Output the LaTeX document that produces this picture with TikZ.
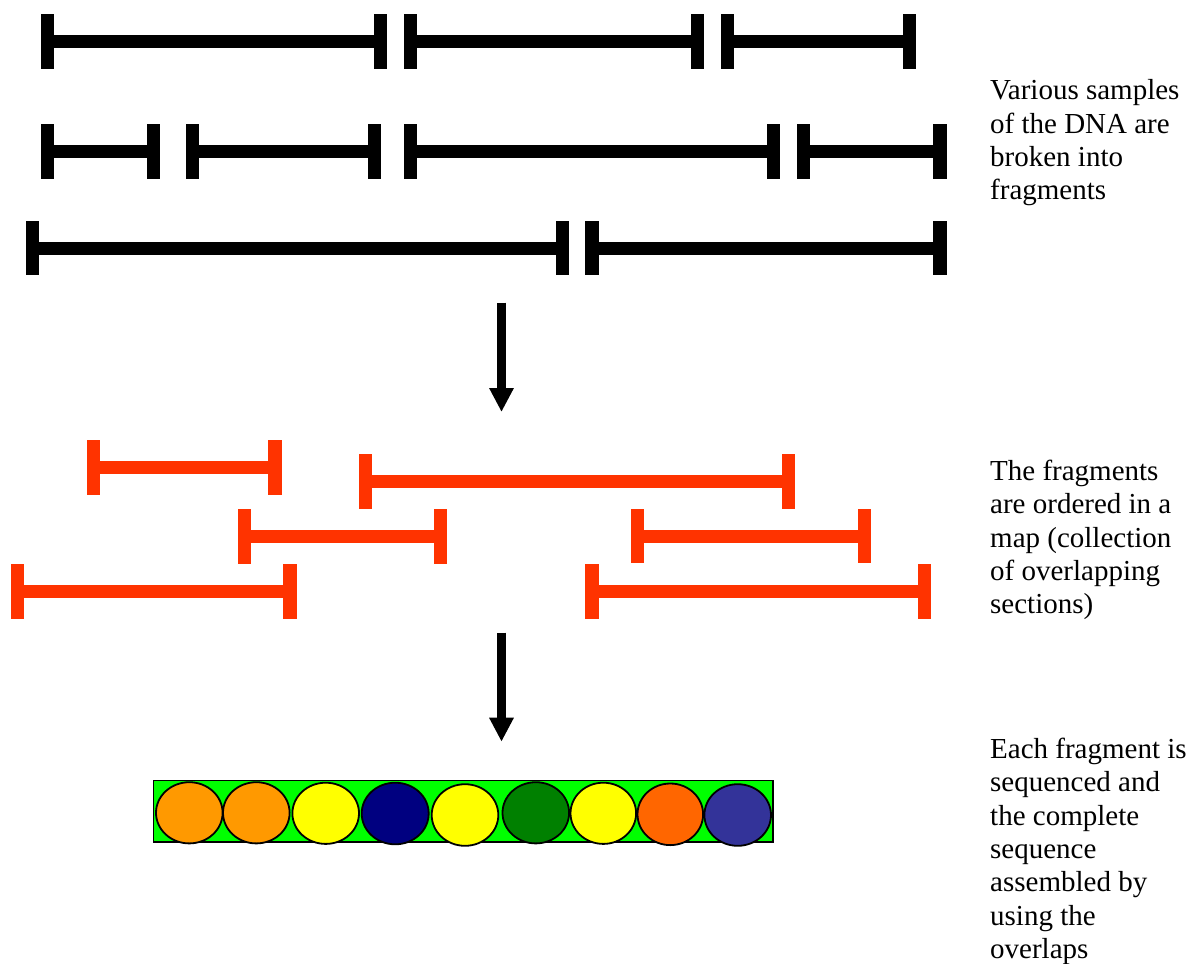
\documentclass[tikz,border=0pt]{standalone}
\usepackage{fontspec}
\setmainfont{Liberation Serif}
\usetikzlibrary{arrows.meta}
\definecolor{fragred}{HTML}{FF3300}
\definecolor{seqgreen}{HTML}{00FF00}
\definecolor{cOrange}{HTML}{FF9900}
\definecolor{cYellow}{HTML}{FFFF00}
\definecolor{cNavy}{HTML}{000080}
\definecolor{cGreen}{HTML}{008000}
\definecolor{cRedOrange}{HTML}{FF6600}
\definecolor{cSlate}{HTML}{333399}
\tikzset{
  blackfrag/.style={fill=black},
  redfrag/.style={fill=fragred},
  flowarrow/.style={line width=8.4pt, -{Triangle[width=23pt,length=24pt]}},
  caption/.style={anchor=north west, inner sep=0pt, align=left,
    font=\fontsize{29}{33.3}\selectfont},
  base/.style={draw=black, line width=1.8pt},
}
% fragment: #1 style, #2 x1, #3 x2, #4 y
\newcommand{\fragbar}[4]{%
  \fill[#1] (#2,#4-6.5) rectangle (#3,#4+6.5);
  \fill[#1] (#2,#4-27.4) rectangle (#2+13.3,#4+27.4);
  \fill[#1] (#3-13.3,#4-27.4) rectangle (#3,#4+27.4);
}
\begin{document}
\begin{tikzpicture}[x=1pt,y=-1pt]
\useasboundingbox (0,0) rectangle (1197,964);
% black fragments
\fragbar{blackfrag}{41}{387}{41.5}
\fragbar{blackfrag}{404}{704.3}{41.5}
\fragbar{blackfrag}{721}{916}{41.5}
\fragbar{blackfrag}{41}{160}{151.8}
\fragbar{blackfrag}{186}{381}{151.8}
\fragbar{blackfrag}{404}{780}{151.8}
\fragbar{blackfrag}{797}{946.7}{151.8}
\fragbar{blackfrag}{26}{569}{248}
\fragbar{blackfrag}{585.3}{946.7}{248}
% red fragments
\fragbar{redfrag}{86.7}{281.7}{467.3}
\fragbar{redfrag}{358.7}{795.3}{481.2}
\fragbar{redfrag}{237.7}{447.3}{536.3}
\fragbar{redfrag}{631}{871.3}{536}
\fragbar{redfrag}{11}{296.7}{591.3}
\fragbar{redfrag}{585.3}{931.3}{591.3}
% arrows
\coordinate (a1s) at (501.5,302.7);
\coordinate (a1e) at (501.5,412);
\coordinate (a2s) at (501.5,632.7);
\coordinate (a2e) at (501.5,741.7);
\draw[flowarrow] (a1s) -- (a1e);
\draw[flowarrow] (a2s) -- (a2e);
% sequence
\draw[base, fill=seqgreen] (153.5,780.5) rectangle (773.3,842.3);
\draw[base, fill=cOrange] (189.3,812.8) ellipse [x radius=33.3, y radius=30.6];
\draw[base, fill=cOrange] (256.3,812.8) ellipse [x radius=33.3, y radius=30.6];
\draw[base, fill=cYellow] (325.7,813.3) ellipse [x radius=33.3, y radius=30.6];
\draw[base, fill=cNavy] (395.2,813.5) ellipse [x radius=33.5, y radius=30.8];
\draw[base, fill=cYellow] (465,815) ellipse [x radius=33.3, y radius=30.8];
\draw[base, fill=cGreen] (535.8,812.8) ellipse [x radius=33.3, y radius=30.6];
\draw[base, fill=cYellow] (603.3,813.3) ellipse [x radius=32.8, y radius=30.6];
\draw[base, fill=cRedOrange] (670.3,814.3) ellipse [x radius=32.8, y radius=30.8];
\draw[base, fill=cSlate] (737.7,815) ellipse [x radius=33.3, y radius=30.8];
% captions
\node[caption] (t1) at (990,79.5) {Various samples\\of the DNA are\\broken into\\fragments};
\node[caption] (t2) at (990,459.8) {The fragments\\are ordered in a\\map (collection\\of overlapping\\sections)};
\node[caption] (t3) at (990,738) {Each fragment is\\sequenced and\\the complete\\sequence\\assembled by\\using the\\overlaps};
\end{tikzpicture}
\end{document}
